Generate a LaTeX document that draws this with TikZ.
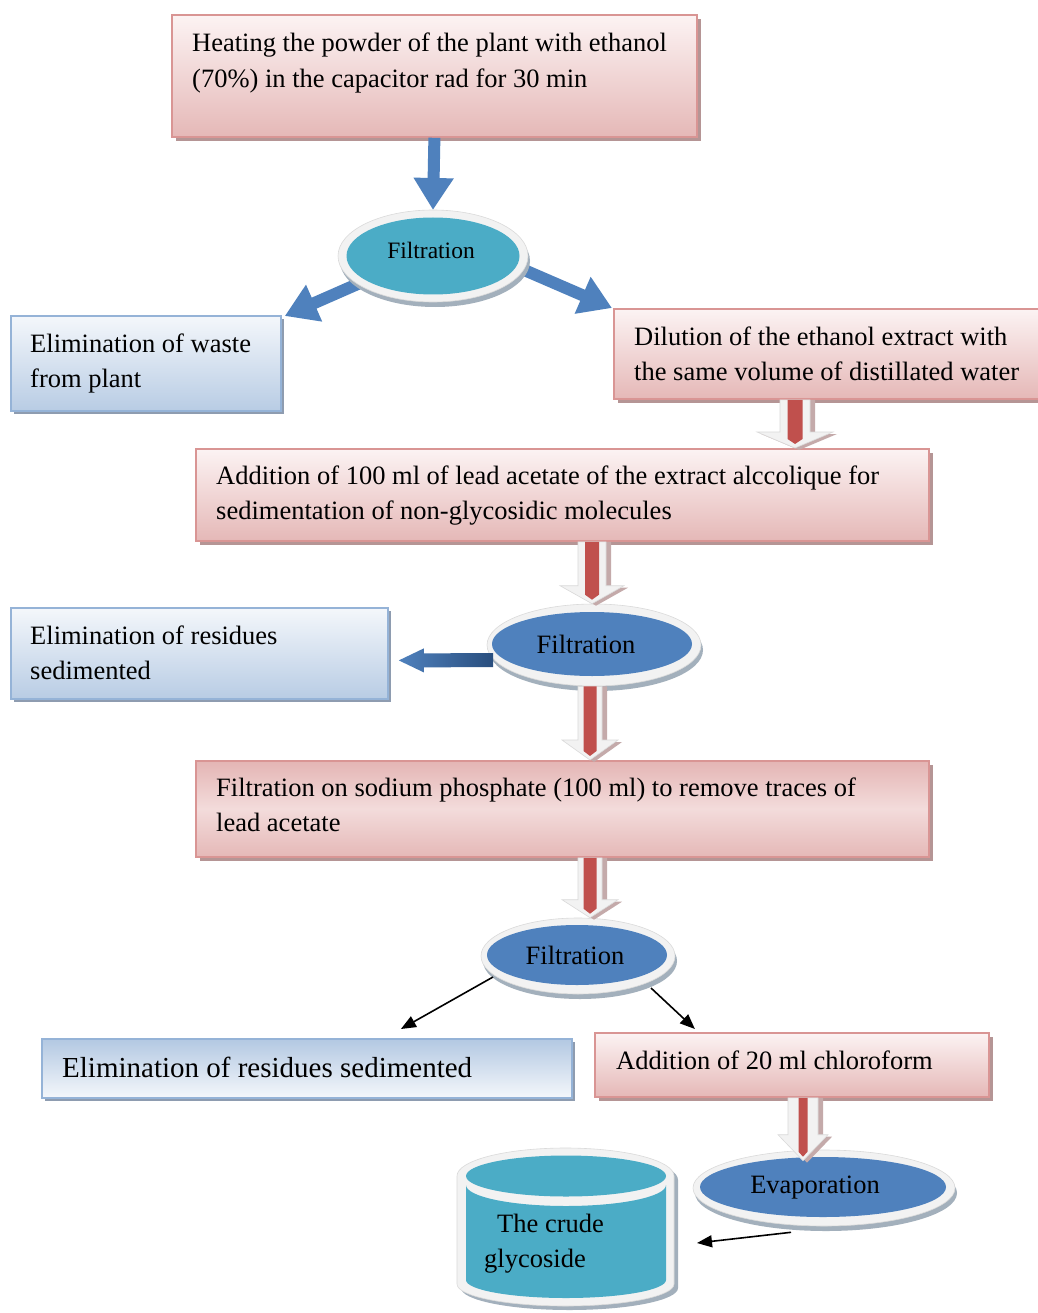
\documentclass[tikz,border=0pt]{standalone}
\usepackage{fontspec}
\setmainfont{Liberation Serif}
\usetikzlibrary{calc,arrows.meta,shadows,shapes.geometric}
\definecolor{pinkB}{HTML}{D99594}
\definecolor{pinkL}{HTML}{FCF3F3}
\definecolor{pinkD}{HTML}{E5B8B7}
\definecolor{pinkS}{HTML}{B59595}
\definecolor{blueB}{HTML}{95B3D7}
\definecolor{blueL}{HTML}{F4F7FB}
\definecolor{blueD}{HTML}{B8CCE4}
\definecolor{blueS}{HTML}{8E9CB0}
\definecolor{tealC}{HTML}{4BACC6}
\definecolor{mblue}{HTML}{4F81BD}
\definecolor{dblue}{HTML}{294E7E}
\definecolor{mred}{HTML}{C0504D}
\definecolor{ringC}{HTML}{F2F2F2}
\definecolor{ringE}{HTML}{DADADA}
\definecolor{ringS}{HTML}{A3B0BC}
\definecolor{arrS}{HTML}{C4AAAA}
\newcommand\fatarrow[7]{%
 \coordinate (tx) at (#1,0);
 \coordinate (ta) at (tx |- #2);
 \coordinate (tb) at (tx |- #3);
 \fill[arrS] ($(ta)+(-#4+5,0)$) -- ($(ta)+(#4+5,0)$) -- ($(tb)+(#4+5,-#6+2)$) -- ($(tb)+(#5+4,-#6+2)$) -- ($(tb)+(4,2)$) -- ($(tb)+(-#5+4,-#6+2)$) -- ($(tb)+(-#4+5,-#6+2)$) -- cycle;
 \filldraw[fill=ringC, draw=ringE, line width=0.6pt] ($(ta)+(-#4,0)$) -- ($(ta)+(#4,0)$) -- ($(tb)+(#4,-#6)$) -- ($(tb)+(#5,-#6)$) -- (tb) -- ($(tb)+(-#5,-#6)$) -- ($(tb)+(-#4,-#6)$) -- cycle;
 \fill[mred] ($(ta)+(-#7,0)$) -- ($(ta)+(#7,0)$) -- ($(tb)+(#7,-9)$) -- ($(tb)+(0,-4)$) -- ($(tb)+(-#7,-9)$) -- cycle;
}
\tikzset{
 box/.style={draw, line width=1.8pt, anchor=north west, inner sep=0pt},
 pinkbox/.style={box, draw=pinkB, top color=pinkL, bottom color=pinkD,
   drop shadow={shadow xshift=4pt, shadow yshift=-4pt, fill=pinkS, opacity=1}},
 bluebox/.style={box, draw=blueB, top color=blueL, bottom color=blueD,
   drop shadow={shadow xshift=3pt, shadow yshift=-3pt, fill=blueS, opacity=1}},
 txt/.style={anchor=base west, inner sep=0pt, align=left, font=\fontsize{26.5}{35.5}\selectfont},
 ringell/.style={ellipse, fill=ringC, draw=ringE, line width=0.6pt, inner sep=0pt,
   drop shadow={shadow xshift=2pt, shadow yshift=-5pt, fill=ringS, opacity=1}},
 inell/.style={ellipse, inner sep=0pt, font=\fontsize{26.5}{30}\selectfont},
 eltxt/.style={inner sep=0pt, font=\fontsize{26.5}{30}\selectfont},
 bluefat/.style={draw=mblue, line width=12pt, -{Triangle[width=38pt,length=32pt]}},
 thinarr/.style={draw=black, line width=1.6pt, -{Triangle[width=12pt,length=15pt]}}
}
\begin{document}
\begin{tikzpicture}[x=1pt,y=-1pt]
\useasboundingbox (0,0) rectangle (1037,1313);
\fill[white] (0,0) rectangle (1037,1313);

% boxes
\node[pinkbox, minimum width=525pt, minimum height=122pt] (b1) at (171,14) {};
\node[bluebox, minimum width=270pt, minimum height=95pt] (b2) at (10,315) {};
\node[pinkbox, minimum width=430pt, minimum height=90pt] (b3) at (613,308) {};
\node[pinkbox, minimum width=733pt, minimum height=92pt] (b4) at (195,448) {};
\node[bluebox, minimum width=377pt, minimum height=91pt] (b5) at (10,607) {};
\node[pinkbox, minimum width=733pt, minimum height=96pt, top color=pinkD!92!pinkB, bottom color=pinkD, middle color=pinkL!60!pinkD] (b6) at (195,760) {};
\node[bluebox, minimum width=530pt, minimum height=59pt, top color=blueD!85!blueB, bottom color=blueL] (b7) at (41,1038) {};
\node[pinkbox, minimum width=394pt, minimum height=64pt] (b8) at (594,1032) {};

% texts
\node[txt] (t1) at (192,87.5) {Heating the powder of the plant with ethanol\\(70\%) in the capacitor rad for 30 min};
\node[txt] (t2) at (30,387.5) {Elimination of waste\\from plant};
\node[txt] (t3) at (634,380.5) {Dilution of the ethanol extract with\\the same volume of distillated water};
\node[txt] (t4) at (216,519.5) {Addition of 100 ml of lead acetate of the extract alccolique for\\sedimentation of non-glycosidic molecules};
\node[txt] (t5) at (30,679.5) {Elimination of residues\\sedimented};
\node[txt] (t6) at (216,831.5) {Filtration on sodium phosphate (100 ml) to remove traces of\\lead acetate};
\node[txt, font=\fontsize{29}{35}\selectfont] (t7) at (62,1077) {Elimination of residues sedimented};
\node[txt] (t8) at (616,1069) {Addition of 20 ml chloroform};

% blue arrows from the first filtration
\coordinate (f1c) at (433,256);
\draw[bluefat] (b1.south) -- (433,210) coordinate (f1top);
\draw[bluefat] ($(f1c)+(-32,9)$) -- ($(b2.north east)+(3,1)$);
\draw[bluefat] ($(f1c)+(38,-9)$) -- ($(b3.north west)+(-1,0)$);

% ellipses
\node[ringell, minimum width=190pt, minimum height=92pt] (f1) at (f1c) {};
\node[inell, fill=tealC, minimum width=173pt, minimum height=77pt] (f1i) at (433,256) {};
\node[inner sep=0pt, font=\fontsize{23.5}{28}\selectfont] (f1t) at (431,250) {Filtration};

\node[ringell, minimum width=214pt, minimum height=82pt] (f2) at (594,645) {};
\node[inell, fill=mblue, minimum width=200pt, minimum height=64pt] (f2i) at (592,644) {};
\node[eltxt] (f2t) at (586,644) {Filtration};

\node[ringell, minimum width=194pt, minimum height=76pt] (f3) at (578,956) {};
\node[inell, fill=mblue, minimum width=180pt, minimum height=60pt] (f3i) at (577,955) {};
\node[eltxt] (f3t) at (575,955) {Filtration};

\node[ringell, minimum width=262pt, minimum height=76pt] (f4) at (824,1188) {};
\node[inell, fill=mblue, minimum width=246pt, minimum height=60pt] (f4i) at (823,1187) {};
\node[eltxt] (f4t) at (815,1188) {Evaporation};

% red hollow arrows
\fatarrow{795}{b3.south}{b4.north}{15}{38}{16}{7.5}
\fatarrow{592}{b4.south}{f2.north}{14}{32}{18}{7}
\fatarrow{590}{f2.south}{b6.north}{12}{28}{20}{6.5}
\fatarrow{590}{b6.south}{f3.north}{12}{28}{18}{6.5}
\coordinate (f4n) at ($(f4.north)+(0,11)$);
\fatarrow{803}{b8.south}{f4n}{15}{25}{26}{4.5}

% dark blue arrow to b5
\coordinate (ds) at ($(f2.center)+(-101,15)$);
\coordinate (dt) at ($(b5.east)+(10,7)$);
\shade[left color=mblue, middle color=mblue!75!white, right color=dblue]
  ($(ds)+(0,-7)$) -- ($(dt)+(25,-7)$) -- ($(dt)+(25,-12)$) -- (dt) -- ($(dt)+(25,12)$) -- ($(dt)+(25,7)$) -- ($(ds)+(0,7)$) -- cycle;

% thin black arrows
\draw[thinarr] ($(f3.center)+(-85,21)$) -- ($(b7.north)+(94,-9)$);
\draw[thinarr] ($(f3.center)+(73,32)$) -- ($(b8.north)+(-97,-3)$);

% cylinder
\fill[ringS] (461,1180) arc[start angle=180,end angle=0,x radius=108.5pt,y radius=28pt] -- (678,1288) arc[start angle=0,end angle=-180,x radius=108.5pt,y radius=22pt] -- cycle;
\filldraw[fill=ringC, draw=ringE, line width=0.6pt] (457,1176) arc[start angle=180,end angle=0,x radius=108.5pt,y radius=28pt] -- (674,1284) arc[start angle=0,end angle=-180,x radius=108.5pt,y radius=22pt] -- cycle;
\fill[tealC] (466,1185) -- (466,1280) arc[start angle=180,end angle=360,x radius=100pt,y radius=18pt] -- (666,1185) arc[start angle=0,end angle=-180,x radius=100pt,y radius=21pt] -- cycle;
\fill[tealC] (566,1176) ellipse[x radius=100pt, y radius=20.5pt];
\node[txt] (cyl) at (484,1267.5) {\hspace*{13pt}The crude\\glycoside};

\draw[thinarr] ($(f4.south)+(-33,6)$) -- (697,1243) coordinate (cylE);
\end{tikzpicture}
\end{document}
